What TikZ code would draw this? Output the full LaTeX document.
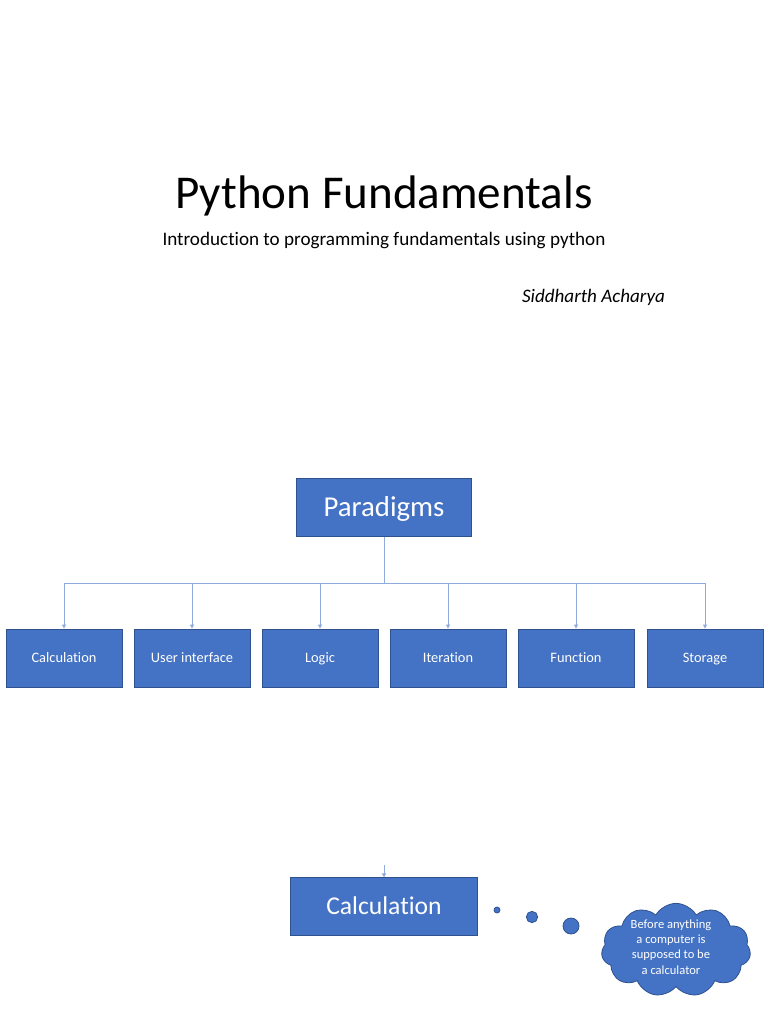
\documentclass[tikz,border=0pt]{standalone}
\usepackage{fontspec}
\setmainfont{Carlito}[Ligatures=NoCommon]
\usetikzlibrary{shapes.symbols,arrows.meta}
\definecolor{boxfill}{HTML}{4472C4}
\definecolor{boxline}{HTML}{2F528F}
\definecolor{conn}{HTML}{8FAADC}
\begin{document}
\begin{tikzpicture}[x=0.75pt,y=-0.75pt,
  bluebox/.style={draw=boxline,fill=boxfill,text=white,line width=0.6pt,inner sep=0pt,text depth=0pt},
  smallbox/.style={bluebox,minimum width=87pt,minimum height=43.5pt,text height=7pt,font=\fontsize{10.8}{13}\selectfont},
  link/.style={draw=conn,line width=0.6pt},
  arr/.style={link,-{Triangle[width=3pt,length=3pt]}},
  bubble/.style={draw=boxline,fill=boxfill,line width=0.6pt}]
\useasboundingbox (0,0) rectangle (768,1024);
\node[anchor=base,font=\fontsize{35.3}{40}\selectfont] (title) at (384,208) {Python Fundamentals};
\node[anchor=base,font=\fontsize{14.35}{17}\selectfont] (sub) at (384,245) {Introduction to programming fundamentals using python};
\node[anchor=base,font=\fontsize{14.3}{17}\selectfont\itshape] (author) at (593.5,302) {Siddharth Acharya};
\node[bluebox,minimum width=131pt,minimum height=44pt,text height=13.9pt,font=\fontsize{21.6}{26}\selectfont] (par) at (384,507.5) {Paradigms};
\node[smallbox] (b1) at (64,658) {Calculation};
\node[smallbox] (b2) at (192,658) {User interface};
\node[smallbox] (b3) at (320,658) {Logic};
\node[smallbox] (b4) at (448,658) {Iteration};
\node[smallbox] (b5) at (576,658) {Function};
\node[smallbox] (b6) at (705,658) {Storage};
\coordinate (bus) at (384,583);
\draw[link] (par.south) -- (bus);
\foreach \b in {b1,b2,b3,b4,b5,b6}{
  \draw[arr] (bus) -| (\b.north);
}
\node[bluebox,minimum width=140pt,minimum height=43pt,text height=12.4pt,font=\fontsize{19.2}{23}\selectfont] (calc) at (384,906.5) {Calculation};
\coordinate (calcin) at (384,865);
\draw[arr] (calcin) -- (calc.north);
\node[bubble,circle,minimum size=4.5pt,inner sep=0pt] (c1) at (497,910) {};
\node[bubble,circle,minimum size=8.5pt,inner sep=0pt] (c2) at (532,917) {};
\node[bubble,circle,minimum size=12pt,inner sep=0pt] (c3) at (571,926) {};
\node[bubble,cloud,cloud puffs=11,cloud puff arc=120,aspect=1.6,minimum width=112pt,minimum height=70pt,inner sep=0pt] (cloud) at (676,950) {};
\node[text=white,align=center,font=\fontsize{9.4}{11.5}\selectfont] (cloudtext) at (671,947) {Before anything\\a computer is\\supposed to be\\a calculator};
\end{tikzpicture}
\end{document}
